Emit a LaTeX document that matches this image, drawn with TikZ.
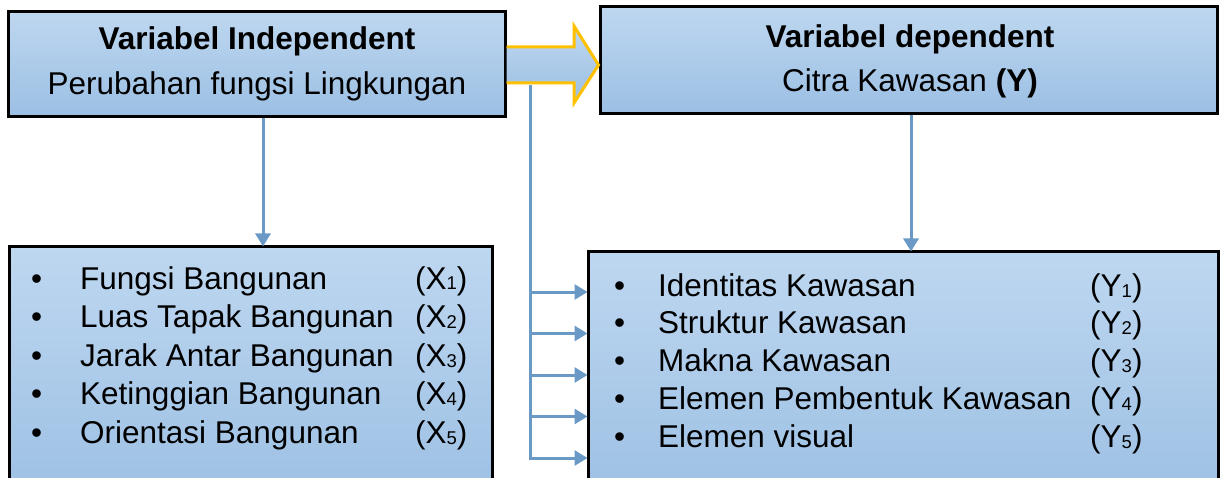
\documentclass[tikz,border=0pt]{standalone}
\usepackage{fontspec}
\setmainfont{Liberation Sans}
\usetikzlibrary{arrows.meta}
\definecolor{boxtop}{RGB}{190,215,240}
\definecolor{boxbot}{RGB}{155,191,227}
\definecolor{linkblue}{RGB}{106,153,197}
\definecolor{goldline}{RGB}{255,192,0}
\newcommand{\sbx}[1]{\raisebox{-1pt}{\fontsize{18.5}{18.5}\selectfont #1}}
\tikzset{
  varbox/.style={draw=black, line width=3pt, top color=boxtop, bottom color=boxbot,
    rectangle, inner sep=0pt},
  txt/.style={inner sep=0pt, anchor=base west, font=\fontsize{31.5}{34}\selectfont},
  ctxt/.style={inner sep=0pt, anchor=base, font=\fontsize{31.5}{34}\selectfont},
  link/.style={draw=linkblue, line width=3pt},
  linkarrow/.style={link, -{Triangle[width=15pt,length=13pt]}, shorten >=-1pt},
}
\begin{document}
\begin{tikzpicture}[x=1pt,y=-1pt]
\useasboundingbox (0,0) rectangle (1220,478);
\clip (0,0) rectangle (1220,478);

% the four variable boxes
\node[varbox, minimum width=497pt, minimum height=105pt] (indep) at (256.5,64.5) {};
\node[varbox, minimum width=617pt, minimum height=107pt] (dep) at (908.5,60.5) {};
\node[varbox, minimum width=483pt, minimum height=263pt] (xlist) at (250.5,378.5) {};
\node[varbox, minimum width=630pt, minimum height=258pt] (ylist) at (903,381) {};

% headings
\node[ctxt, font=\fontsize{31.5}{34}\selectfont\bfseries] (indepT) at (257,50) {Variabel Independent};
\node[ctxt] (indepS) at (257,95) {Perubahan fungsi Lingkungan};
\node[ctxt, font=\fontsize{31.5}{34}\selectfont\bfseries] (depT) at (910,48) {Variabel dependent};
\node[ctxt] (depS) at (910,92) {Citra Kawasan \textbf{(Y)}};

% indicator lists
\foreach \t/\n [count=\i] in {Fungsi Bangunan/1, Luas Tapak Bangunan/2,
    Jarak Antar Bangunan/3, Ketinggian Bangunan/4, Orientasi Bangunan/5} {
  \pgfmathsetmacro{\yb}{289+38.5*(\i-1)}
  \node[txt] (xb\i) at (31,\yb) {•};
  \node[txt] (xt\i) at (80,\yb) {\t};
  \node[txt] (xl\i) at (415,\yb) {(X\sbx{\n})};
}
\foreach \t/\n [count=\i] in {Identitas Kawasan/1, Struktur Kawasan/2,
    Makna Kawasan/3, Elemen Pembentuk Kawasan/4, Elemen visual/5} {
  \pgfmathsetmacro{\yb}{296+37.8*(\i-1)}
  \node[txt] (yb\i) at (614,\yb) {•};
  \node[txt] (yt\i) at (658,\yb) {\t};
  \node[txt] (yl\i) at (1090,\yb) {(Y\sbx{\n})};
}

% block arrow from the independent to the dependent variable
\path[draw=goldline, line width=3pt, line join=miter, top color=boxtop, bottom color=boxbot]
  (indep.east |- 0,47) -- (574,47) -- (574,26) -- (dep.west |- 0,65)
  -- (574,103) -- (574,83) -- (indep.east |- 0,83);

% connectors
\draw[linkarrow] (indep.south -| 263,0) -- (xlist.north -| 263,0);
\draw[linkarrow] (dep.south -| 911,0) -- (ylist.north -| 911,0);

\coordinate (trunk) at (530,85);
\coordinate (trunkend) at (530,458);
\draw[link] (trunk) -- (trunkend);
\foreach \yy [count=\i] in {292,333.5,375,416.5,458} {
  \coordinate (br\i) at (530,\yy);
  \draw[linkarrow, line cap=butt] ([xshift=-1.5pt]br\i) -- (ylist.west |- br\i);
}
\end{tikzpicture}
\end{document}
